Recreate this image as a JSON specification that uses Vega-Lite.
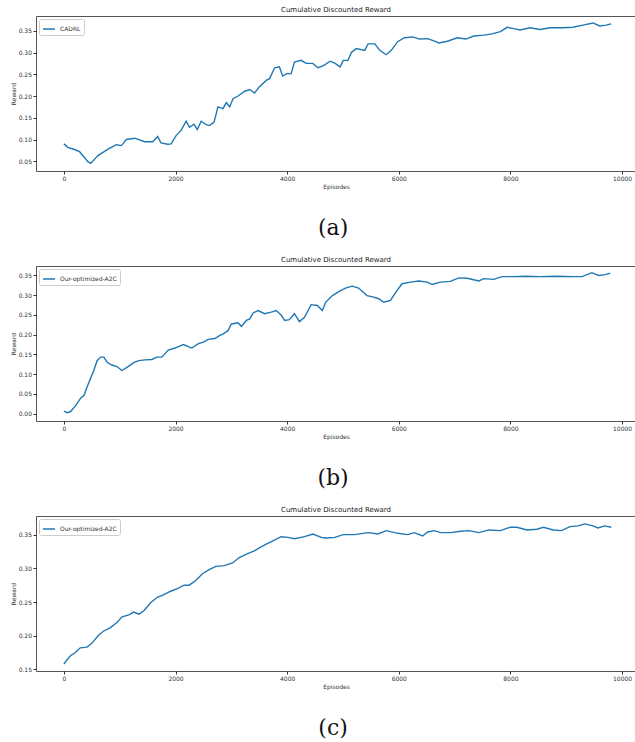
{
  "$schema": "https://vega.github.io/schema/vega-lite/v6.json",
  "padding": {"left": 9, "top": 5, "right": 0, "bottom": 0},
  "background": "white",
  "config": {
    "font": "DejaVu Sans",
    "view": {"stroke": "#555", "strokeWidth": 1},
    "axis": {"grid": false, "domain": false, "tickSize": 3, "tickColor": "#333", "labelFontSize": 6, "labelColor": "#333", "titleFontSize": 6, "titleFontWeight": "normal", "titleColor": "#333", "labelPadding": 1.5, "titlePadding": 2},
    "title": {"fontSize": 7, "fontWeight": "normal", "color": "#222", "offset": 3},
    "legend": {"orient": "top-left", "offset": 3, "padding": 3, "strokeColor": "#ccc", "fillColor": "white", "cornerRadius": 2, "labelFontSize": 6, "labelColor": "#333", "symbolType": "stroke", "symbolStrokeWidth": 1.5, "symbolSize": 144, "labelOffset": 4, "title": null}
  },
  "datasets": {
    "a": [
      {"episode": 0, "reward": 0.090, "series": "CADRL"},
      {"episode": 70, "reward": 0.082, "series": "CADRL"},
      {"episode": 190, "reward": 0.077, "series": "CADRL"},
      {"episode": 280, "reward": 0.072, "series": "CADRL"},
      {"episode": 430, "reward": 0.049, "series": "CADRL"},
      {"episode": 480, "reward": 0.045, "series": "CADRL"},
      {"episode": 610, "reward": 0.063, "series": "CADRL"},
      {"episode": 790, "reward": 0.078, "series": "CADRL"},
      {"episode": 940, "reward": 0.088, "series": "CADRL"},
      {"episode": 1030, "reward": 0.086, "series": "CADRL"},
      {"episode": 1120, "reward": 0.100, "series": "CADRL"},
      {"episode": 1270, "reward": 0.103, "series": "CADRL"},
      {"episode": 1445, "reward": 0.095, "series": "CADRL"},
      {"episode": 1590, "reward": 0.095, "series": "CADRL"},
      {"episode": 1680, "reward": 0.107, "series": "CADRL"},
      {"episode": 1740, "reward": 0.092, "series": "CADRL"},
      {"episode": 1860, "reward": 0.089, "series": "CADRL"},
      {"episode": 1920, "reward": 0.090, "series": "CADRL"},
      {"episode": 2010, "reward": 0.109, "series": "CADRL"},
      {"episode": 2100, "reward": 0.121, "series": "CADRL"},
      {"episode": 2190, "reward": 0.142, "series": "CADRL"},
      {"episode": 2250, "reward": 0.128, "series": "CADRL"},
      {"episode": 2330, "reward": 0.135, "series": "CADRL"},
      {"episode": 2390, "reward": 0.123, "series": "CADRL"},
      {"episode": 2460, "reward": 0.142, "series": "CADRL"},
      {"episode": 2550, "reward": 0.134, "series": "CADRL"},
      {"episode": 2610, "reward": 0.132, "series": "CADRL"},
      {"episode": 2690, "reward": 0.140, "series": "CADRL"},
      {"episode": 2760, "reward": 0.175, "series": "CADRL"},
      {"episode": 2850, "reward": 0.171, "series": "CADRL"},
      {"episode": 2910, "reward": 0.185, "series": "CADRL"},
      {"episode": 2970, "reward": 0.175, "series": "CADRL"},
      {"episode": 3030, "reward": 0.194, "series": "CADRL"},
      {"episode": 3120, "reward": 0.200, "series": "CADRL"},
      {"episode": 3240, "reward": 0.211, "series": "CADRL"},
      {"episode": 3330, "reward": 0.215, "series": "CADRL"},
      {"episode": 3415, "reward": 0.207, "series": "CADRL"},
      {"episode": 3500, "reward": 0.221, "series": "CADRL"},
      {"episode": 3625, "reward": 0.236, "series": "CADRL"},
      {"episode": 3685, "reward": 0.240, "series": "CADRL"},
      {"episode": 3775, "reward": 0.265, "series": "CADRL"},
      {"episode": 3860, "reward": 0.267, "series": "CADRL"},
      {"episode": 3920, "reward": 0.246, "series": "CADRL"},
      {"episode": 4000, "reward": 0.252, "series": "CADRL"},
      {"episode": 4070, "reward": 0.251, "series": "CADRL"},
      {"episode": 4130, "reward": 0.278, "series": "CADRL"},
      {"episode": 4250, "reward": 0.282, "series": "CADRL"},
      {"episode": 4340, "reward": 0.275, "series": "CADRL"},
      {"episode": 4460, "reward": 0.275, "series": "CADRL"},
      {"episode": 4550, "reward": 0.265, "series": "CADRL"},
      {"episode": 4650, "reward": 0.270, "series": "CADRL"},
      {"episode": 4770, "reward": 0.280, "series": "CADRL"},
      {"episode": 4860, "reward": 0.275, "series": "CADRL"},
      {"episode": 4950, "reward": 0.267, "series": "CADRL"},
      {"episode": 5005, "reward": 0.282, "series": "CADRL"},
      {"episode": 5090, "reward": 0.282, "series": "CADRL"},
      {"episode": 5150, "reward": 0.300, "series": "CADRL"},
      {"episode": 5240, "reward": 0.309, "series": "CADRL"},
      {"episode": 5390, "reward": 0.305, "series": "CADRL"},
      {"episode": 5450, "reward": 0.320, "series": "CADRL"},
      {"episode": 5570, "reward": 0.320, "series": "CADRL"},
      {"episode": 5660, "reward": 0.305, "series": "CADRL"},
      {"episode": 5775, "reward": 0.295, "series": "CADRL"},
      {"episode": 5865, "reward": 0.305, "series": "CADRL"},
      {"episode": 5980, "reward": 0.325, "series": "CADRL"},
      {"episode": 6100, "reward": 0.334, "series": "CADRL"},
      {"episode": 6250, "reward": 0.336, "series": "CADRL"},
      {"episode": 6370, "reward": 0.331, "series": "CADRL"},
      {"episode": 6515, "reward": 0.332, "series": "CADRL"},
      {"episode": 6665, "reward": 0.325, "series": "CADRL"},
      {"episode": 6720, "reward": 0.322, "series": "CADRL"},
      {"episode": 6870, "reward": 0.326, "series": "CADRL"},
      {"episode": 7050, "reward": 0.334, "series": "CADRL"},
      {"episode": 7200, "reward": 0.331, "series": "CADRL"},
      {"episode": 7345, "reward": 0.338, "series": "CADRL"},
      {"episode": 7520, "reward": 0.340, "series": "CADRL"},
      {"episode": 7670, "reward": 0.343, "series": "CADRL"},
      {"episode": 7820, "reward": 0.348, "series": "CADRL"},
      {"episode": 7940, "reward": 0.358, "series": "CADRL"},
      {"episode": 8055, "reward": 0.355, "series": "CADRL"},
      {"episode": 8175, "reward": 0.352, "series": "CADRL"},
      {"episode": 8350, "reward": 0.357, "series": "CADRL"},
      {"episode": 8530, "reward": 0.353, "series": "CADRL"},
      {"episode": 8710, "reward": 0.357, "series": "CADRL"},
      {"episode": 8945, "reward": 0.357, "series": "CADRL"},
      {"episode": 9120, "reward": 0.358, "series": "CADRL"},
      {"episode": 9300, "reward": 0.363, "series": "CADRL"},
      {"episode": 9480, "reward": 0.368, "series": "CADRL"},
      {"episode": 9600, "reward": 0.361, "series": "CADRL"},
      {"episode": 9715, "reward": 0.363, "series": "CADRL"},
      {"episode": 9805, "reward": 0.366, "series": "CADRL"}
    ],
    "b": [
      {"episode": 0, "reward": 0.006, "series": "Our-optimized-A2C"},
      {"episode": 60, "reward": 0.002, "series": "Our-optimized-A2C"},
      {"episode": 120, "reward": 0.005, "series": "Our-optimized-A2C"},
      {"episode": 210, "reward": 0.020, "series": "Our-optimized-A2C"},
      {"episode": 300, "reward": 0.039, "series": "Our-optimized-A2C"},
      {"episode": 360, "reward": 0.046, "series": "Our-optimized-A2C"},
      {"episode": 415, "reward": 0.067, "series": "Our-optimized-A2C"},
      {"episode": 475, "reward": 0.088, "series": "Our-optimized-A2C"},
      {"episode": 535, "reward": 0.109, "series": "Our-optimized-A2C"},
      {"episode": 595, "reward": 0.134, "series": "Our-optimized-A2C"},
      {"episode": 655, "reward": 0.143, "series": "Our-optimized-A2C"},
      {"episode": 715, "reward": 0.143, "series": "Our-optimized-A2C"},
      {"episode": 775, "reward": 0.130, "series": "Our-optimized-A2C"},
      {"episode": 860, "reward": 0.123, "series": "Our-optimized-A2C"},
      {"episode": 950, "reward": 0.119, "series": "Our-optimized-A2C"},
      {"episode": 1040, "reward": 0.109, "series": "Our-optimized-A2C"},
      {"episode": 1130, "reward": 0.117, "series": "Our-optimized-A2C"},
      {"episode": 1250, "reward": 0.129, "series": "Our-optimized-A2C"},
      {"episode": 1340, "reward": 0.134, "series": "Our-optimized-A2C"},
      {"episode": 1455, "reward": 0.136, "series": "Our-optimized-A2C"},
      {"episode": 1575, "reward": 0.137, "series": "Our-optimized-A2C"},
      {"episode": 1665, "reward": 0.143, "series": "Our-optimized-A2C"},
      {"episode": 1755, "reward": 0.143, "series": "Our-optimized-A2C"},
      {"episode": 1870, "reward": 0.161, "series": "Our-optimized-A2C"},
      {"episode": 1990, "reward": 0.166, "series": "Our-optimized-A2C"},
      {"episode": 2140, "reward": 0.175, "series": "Our-optimized-A2C"},
      {"episode": 2290, "reward": 0.166, "series": "Our-optimized-A2C"},
      {"episode": 2410, "reward": 0.177, "series": "Our-optimized-A2C"},
      {"episode": 2500, "reward": 0.181, "series": "Our-optimized-A2C"},
      {"episode": 2585, "reward": 0.188, "series": "Our-optimized-A2C"},
      {"episode": 2705, "reward": 0.190, "series": "Our-optimized-A2C"},
      {"episode": 2795, "reward": 0.198, "series": "Our-optimized-A2C"},
      {"episode": 2855, "reward": 0.202, "series": "Our-optimized-A2C"},
      {"episode": 2940, "reward": 0.210, "series": "Our-optimized-A2C"},
      {"episode": 3000, "reward": 0.227, "series": "Our-optimized-A2C"},
      {"episode": 3120, "reward": 0.230, "series": "Our-optimized-A2C"},
      {"episode": 3180, "reward": 0.221, "series": "Our-optimized-A2C"},
      {"episode": 3270, "reward": 0.236, "series": "Our-optimized-A2C"},
      {"episode": 3330, "reward": 0.240, "series": "Our-optimized-A2C"},
      {"episode": 3390, "reward": 0.255, "series": "Our-optimized-A2C"},
      {"episode": 3480, "reward": 0.261, "series": "Our-optimized-A2C"},
      {"episode": 3595, "reward": 0.253, "series": "Our-optimized-A2C"},
      {"episode": 3715, "reward": 0.257, "series": "Our-optimized-A2C"},
      {"episode": 3805, "reward": 0.261, "series": "Our-optimized-A2C"},
      {"episode": 3895, "reward": 0.249, "series": "Our-optimized-A2C"},
      {"episode": 3955, "reward": 0.236, "series": "Our-optimized-A2C"},
      {"episode": 4040, "reward": 0.238, "series": "Our-optimized-A2C"},
      {"episode": 4130, "reward": 0.253, "series": "Our-optimized-A2C"},
      {"episode": 4220, "reward": 0.233, "series": "Our-optimized-A2C"},
      {"episode": 4310, "reward": 0.244, "series": "Our-optimized-A2C"},
      {"episode": 4430, "reward": 0.276, "series": "Our-optimized-A2C"},
      {"episode": 4540, "reward": 0.274, "series": "Our-optimized-A2C"},
      {"episode": 4630, "reward": 0.261, "series": "Our-optimized-A2C"},
      {"episode": 4690, "reward": 0.282, "series": "Our-optimized-A2C"},
      {"episode": 4810, "reward": 0.299, "series": "Our-optimized-A2C"},
      {"episode": 4925, "reward": 0.309, "series": "Our-optimized-A2C"},
      {"episode": 5045, "reward": 0.318, "series": "Our-optimized-A2C"},
      {"episode": 5165, "reward": 0.323, "series": "Our-optimized-A2C"},
      {"episode": 5280, "reward": 0.318, "series": "Our-optimized-A2C"},
      {"episode": 5430, "reward": 0.299, "series": "Our-optimized-A2C"},
      {"episode": 5550, "reward": 0.295, "series": "Our-optimized-A2C"},
      {"episode": 5640, "reward": 0.291, "series": "Our-optimized-A2C"},
      {"episode": 5730, "reward": 0.282, "series": "Our-optimized-A2C"},
      {"episode": 5850, "reward": 0.287, "series": "Our-optimized-A2C"},
      {"episode": 5970, "reward": 0.312, "series": "Our-optimized-A2C"},
      {"episode": 6060, "reward": 0.329, "series": "Our-optimized-A2C"},
      {"episode": 6210, "reward": 0.333, "series": "Our-optimized-A2C"},
      {"episode": 6360, "reward": 0.336, "series": "Our-optimized-A2C"},
      {"episode": 6510, "reward": 0.333, "series": "Our-optimized-A2C"},
      {"episode": 6600, "reward": 0.327, "series": "Our-optimized-A2C"},
      {"episode": 6745, "reward": 0.333, "series": "Our-optimized-A2C"},
      {"episode": 6925, "reward": 0.335, "series": "Our-optimized-A2C"},
      {"episode": 7075, "reward": 0.344, "series": "Our-optimized-A2C"},
      {"episode": 7225, "reward": 0.343, "series": "Our-optimized-A2C"},
      {"episode": 7435, "reward": 0.336, "series": "Our-optimized-A2C"},
      {"episode": 7520, "reward": 0.342, "series": "Our-optimized-A2C"},
      {"episode": 7700, "reward": 0.340, "series": "Our-optimized-A2C"},
      {"episode": 7850, "reward": 0.347, "series": "Our-optimized-A2C"},
      {"episode": 8060, "reward": 0.347, "series": "Our-optimized-A2C"},
      {"episode": 8270, "reward": 0.348, "series": "Our-optimized-A2C"},
      {"episode": 8540, "reward": 0.347, "series": "Our-optimized-A2C"},
      {"episode": 8835, "reward": 0.348, "series": "Our-optimized-A2C"},
      {"episode": 9135, "reward": 0.347, "series": "Our-optimized-A2C"},
      {"episode": 9285, "reward": 0.347, "series": "Our-optimized-A2C"},
      {"episode": 9460, "reward": 0.357, "series": "Our-optimized-A2C"},
      {"episode": 9580, "reward": 0.350, "series": "Our-optimized-A2C"},
      {"episode": 9700, "reward": 0.352, "series": "Our-optimized-A2C"},
      {"episode": 9790, "reward": 0.356, "series": "Our-optimized-A2C"}
    ],
    "c": [
      {"episode": 0, "reward": 0.158, "series": "Our-optimized-A2C"},
      {"episode": 54, "reward": 0.164, "series": "Our-optimized-A2C"},
      {"episode": 114, "reward": 0.170, "series": "Our-optimized-A2C"},
      {"episode": 204, "reward": 0.175, "series": "Our-optimized-A2C"},
      {"episode": 294, "reward": 0.182, "series": "Our-optimized-A2C"},
      {"episode": 414, "reward": 0.183, "series": "Our-optimized-A2C"},
      {"episode": 504, "reward": 0.189, "series": "Our-optimized-A2C"},
      {"episode": 624, "reward": 0.201, "series": "Our-optimized-A2C"},
      {"episode": 714, "reward": 0.207, "series": "Our-optimized-A2C"},
      {"episode": 834, "reward": 0.212, "series": "Our-optimized-A2C"},
      {"episode": 954, "reward": 0.220, "series": "Our-optimized-A2C"},
      {"episode": 1043, "reward": 0.228, "series": "Our-optimized-A2C"},
      {"episode": 1163, "reward": 0.231, "series": "Our-optimized-A2C"},
      {"episode": 1253, "reward": 0.235, "series": "Our-optimized-A2C"},
      {"episode": 1343, "reward": 0.232, "series": "Our-optimized-A2C"},
      {"episode": 1433, "reward": 0.237, "series": "Our-optimized-A2C"},
      {"episode": 1553, "reward": 0.249, "series": "Our-optimized-A2C"},
      {"episode": 1673, "reward": 0.257, "series": "Our-optimized-A2C"},
      {"episode": 1793, "reward": 0.261, "series": "Our-optimized-A2C"},
      {"episode": 1913, "reward": 0.266, "series": "Our-optimized-A2C"},
      {"episode": 2033, "reward": 0.270, "series": "Our-optimized-A2C"},
      {"episode": 2153, "reward": 0.275, "series": "Our-optimized-A2C"},
      {"episode": 2243, "reward": 0.275, "series": "Our-optimized-A2C"},
      {"episode": 2363, "reward": 0.282, "series": "Our-optimized-A2C"},
      {"episode": 2483, "reward": 0.292, "series": "Our-optimized-A2C"},
      {"episode": 2603, "reward": 0.298, "series": "Our-optimized-A2C"},
      {"episode": 2723, "reward": 0.303, "series": "Our-optimized-A2C"},
      {"episode": 2873, "reward": 0.304, "series": "Our-optimized-A2C"},
      {"episode": 3022, "reward": 0.308, "series": "Our-optimized-A2C"},
      {"episode": 3142, "reward": 0.316, "series": "Our-optimized-A2C"},
      {"episode": 3292, "reward": 0.322, "series": "Our-optimized-A2C"},
      {"episode": 3412, "reward": 0.326, "series": "Our-optimized-A2C"},
      {"episode": 3532, "reward": 0.332, "series": "Our-optimized-A2C"},
      {"episode": 3652, "reward": 0.337, "series": "Our-optimized-A2C"},
      {"episode": 3772, "reward": 0.342, "series": "Our-optimized-A2C"},
      {"episode": 3892, "reward": 0.347, "series": "Our-optimized-A2C"},
      {"episode": 4012, "reward": 0.346, "series": "Our-optimized-A2C"},
      {"episode": 4132, "reward": 0.344, "series": "Our-optimized-A2C"},
      {"episode": 4312, "reward": 0.347, "series": "Our-optimized-A2C"},
      {"episode": 4462, "reward": 0.351, "series": "Our-optimized-A2C"},
      {"episode": 4612, "reward": 0.346, "series": "Our-optimized-A2C"},
      {"episode": 4700, "reward": 0.345, "series": "Our-optimized-A2C"},
      {"episode": 4855, "reward": 0.346, "series": "Our-optimized-A2C"},
      {"episode": 5004, "reward": 0.350, "series": "Our-optimized-A2C"},
      {"episode": 5211, "reward": 0.350, "series": "Our-optimized-A2C"},
      {"episode": 5449, "reward": 0.353, "series": "Our-optimized-A2C"},
      {"episode": 5626, "reward": 0.351, "series": "Our-optimized-A2C"},
      {"episode": 5775, "reward": 0.356, "series": "Our-optimized-A2C"},
      {"episode": 5982, "reward": 0.352, "series": "Our-optimized-A2C"},
      {"episode": 6160, "reward": 0.350, "series": "Our-optimized-A2C"},
      {"episode": 6279, "reward": 0.353, "series": "Our-optimized-A2C"},
      {"episode": 6427, "reward": 0.348, "series": "Our-optimized-A2C"},
      {"episode": 6516, "reward": 0.354, "series": "Our-optimized-A2C"},
      {"episode": 6634, "reward": 0.356, "series": "Our-optimized-A2C"},
      {"episode": 6753, "reward": 0.353, "series": "Our-optimized-A2C"},
      {"episode": 6931, "reward": 0.353, "series": "Our-optimized-A2C"},
      {"episode": 7109, "reward": 0.355, "series": "Our-optimized-A2C"},
      {"episode": 7257, "reward": 0.356, "series": "Our-optimized-A2C"},
      {"episode": 7435, "reward": 0.353, "series": "Our-optimized-A2C"},
      {"episode": 7613, "reward": 0.357, "series": "Our-optimized-A2C"},
      {"episode": 7821, "reward": 0.356, "series": "Our-optimized-A2C"},
      {"episode": 7998, "reward": 0.361, "series": "Our-optimized-A2C"},
      {"episode": 8117, "reward": 0.361, "series": "Our-optimized-A2C"},
      {"episode": 8295, "reward": 0.357, "series": "Our-optimized-A2C"},
      {"episode": 8473, "reward": 0.358, "series": "Our-optimized-A2C"},
      {"episode": 8591, "reward": 0.361, "series": "Our-optimized-A2C"},
      {"episode": 8769, "reward": 0.357, "series": "Our-optimized-A2C"},
      {"episode": 8918, "reward": 0.356, "series": "Our-optimized-A2C"},
      {"episode": 9066, "reward": 0.362, "series": "Our-optimized-A2C"},
      {"episode": 9214, "reward": 0.363, "series": "Our-optimized-A2C"},
      {"episode": 9333, "reward": 0.366, "series": "Our-optimized-A2C"},
      {"episode": 9481, "reward": 0.363, "series": "Our-optimized-A2C"},
      {"episode": 9570, "reward": 0.360, "series": "Our-optimized-A2C"},
      {"episode": 9688, "reward": 0.363, "series": "Our-optimized-A2C"},
      {"episode": 9807, "reward": 0.361, "series": "Our-optimized-A2C"}
    ]
  },
  "spacing": 16,
  "vconcat": [
    {
      "title": {"text": "(a)", "orient": "bottom", "font": "DejaVu Serif", "fontSize": 22, "color": "#111", "offset": 28, "anchor": "middle", "frame": "bounds", "dx": 10},
      "vconcat": [
        {
          "title": {"text": "Cumulative Discounted Reward", "anchor": "middle", "frame": "group"},
          "width": 600, "height": 155,
          "data": {"name": "a"},
          "mark": {"type": "line", "strokeWidth": 1.4, "color": "#1f77b4"},
          "encoding": {
            "x": {"field": "episode", "type": "quantitative", "scale": {"domain": [-500, 10250], "nice": false, "zero": false}, "axis": {"values": [0, 2000, 4000, 6000, 8000, 10000], "format": "d", "title": "Episodes"}},
            "y": {"field": "reward", "type": "quantitative", "scale": {"domain": [0.0276, 0.384], "nice": false, "zero": false}, "axis": {"values": [0.05, 0.10, 0.15, 0.20, 0.25, 0.30, 0.35], "format": ".2f", "title": "Reward"}},
            "color": {"field": "series", "type": "nominal", "scale": {"range": ["#1f77b4"]}}
          }
        }
      ]
    },
    {
      "title": {"text": "(b)", "orient": "bottom", "font": "DejaVu Serif", "fontSize": 22, "color": "#111", "offset": 28, "anchor": "middle", "frame": "bounds", "dx": 10},
      "vconcat": [
        {
          "title": {"text": "Cumulative Discounted Reward", "anchor": "middle", "frame": "group"},
          "width": 600, "height": 155,
          "data": {"name": "b"},
          "mark": {"type": "line", "strokeWidth": 1.4, "color": "#1f77b4"},
          "encoding": {
            "x": {"field": "episode", "type": "quantitative", "scale": {"domain": [-500, 10250], "nice": false, "zero": false}, "axis": {"values": [0, 2000, 4000, 6000, 8000, 10000], "format": "d", "title": "Episodes"}},
            "y": {"field": "reward", "type": "quantitative", "scale": {"domain": [-0.019, 0.374], "nice": false, "zero": false}, "axis": {"values": [0.0, 0.05, 0.10, 0.15, 0.20, 0.25, 0.30, 0.35], "format": ".2f", "title": "Reward"}},
            "color": {"field": "series", "type": "nominal", "scale": {"range": ["#1f77b4"]}}
          }
        }
      ]
    },
    {
      "title": {"text": "(c)", "orient": "bottom", "font": "DejaVu Serif", "fontSize": 22, "color": "#111", "offset": 28, "anchor": "middle", "frame": "bounds", "dx": 10},
      "vconcat": [
        {
          "title": {"text": "Cumulative Discounted Reward", "anchor": "middle", "frame": "group"},
          "width": 600, "height": 155,
          "data": {"name": "c"},
          "mark": {"type": "line", "strokeWidth": 1.4, "color": "#1f77b4"},
          "encoding": {
            "x": {"field": "episode", "type": "quantitative", "scale": {"domain": [-500, 10250], "nice": false, "zero": false}, "axis": {"values": [0, 2000, 4000, 6000, 8000, 10000], "format": "d", "title": "Episodes"}},
            "y": {"field": "reward", "type": "quantitative", "scale": {"domain": [0.1476, 0.3777], "nice": false, "zero": false}, "axis": {"values": [0.15, 0.20, 0.25, 0.30, 0.35], "format": ".2f", "title": "Reward"}},
            "color": {"field": "series", "type": "nominal", "scale": {"range": ["#1f77b4"]}}
          }
        }
      ]
    }
  ],
  "resolve": {"scale": {"color": "independent"}}
}
